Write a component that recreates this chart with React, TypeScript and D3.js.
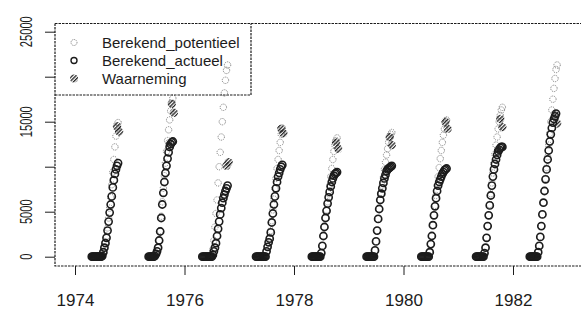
import React, { useEffect, useRef } from 'react';
import * as d3 from 'd3';

// groeiseizoenen en dagnummers van de berekening
const jaren = [1974, 1975, 1976, 1977, 1978, 1979, 1980, 1981, 1982];
const dagen = [98, 105, 112, 119, 126, 133, 140, 147, 154, 161, 168, 175, 182, 189, 196,
  203, 210, 217, 224, 231, 238, 245, 252, 259, 266, 273, 280, 287, 294];

const _ = null;

// Berekend_actueel, een rij per jaar
const berekendActueel = [
  [_, _, 0, 0, 0, 0, 0, 0, 0, 0, 0, 0, 100, 500, 1000, 1500, 2100, 2900, 3900, 4900, 5800, 6700, 7700, 8500, 9200, 9700, 10100, 10400, _],
  [_, _, _, _, 0, 0, 0, 0, 0, 0, 100, 300, 600, 1000, 1800, 2800, 4300, 5800, 7100, 8300, 9300, 10100, 10900, 11600, 12200, 12500, 12700, 12800, _],
  [_, _, _, 0, 0, 0, 0, 0, 0, 0, 0, 0, 0, 200, 600, 1000, 1500, 2300, 3100, 3900, 4700, 5400, 6000, 6500, 6900, 7300, 7600, 7900, _],
  [_, _, 0, 0, 0, 0, 0, 0, 0, 0, 0, 0, 600, 1100, 1600, 2000, 2700, 3800, 4800, 5800, 6700, 7600, 8300, 8900, 9300, 9700, 10000, 10200, _],
  [_, _, _, 0, 0, 0, 0, 0, 0, 0, 0, 0, 400, 1200, 2300, 3300, 4300, 5100, 5900, 6600, 7200, 7800, 8300, 8700, 9000, 9200, 9300, 9400, _],
  [_, _, _, 0, 0, 0, 0, 0, 0, 0, 0, 700, 1700, 2900, 4200, 5300, 6300, 7000, 7600, 8200, 8700, 9100, 9500, 9700, 9800, 9900, 10000, 10100, _],
  [_, _, _, 0, 0, 0, 0, 0, 0, 0, 0, 500, 1400, 2300, 3500, 4600, 5600, 6500, 7300, 7900, 8300, 8600, 8900, 9200, 9400, 9600, 9700, 9800, _],
  [_, _, _, 0, 0, 0, 0, 0, 0, 0, 0, 400, 1000, 2100, 3400, 4600, 5700, 6800, 7900, 8900, 9700, 10300, 10800, 11300, 11700, 11900, 12100, 12200, 12200],
  [_, _, 0, 0, 0, 0, 0, 0, 0, 0, 500, 1200, 2200, 3400, 4700, 6000, 7300, 8600, 9700, 10800, 11800, 12800, 13600, 14300, 14900, 15300, 15600, 15900, _],
];

// Berekend_potentieel
const berekendPotentieel = [
  [_, _, 0, 0, 0, 0, 0, 0, 0, 0, 0, 0, 100, 500, 1000, 1600, 2300, 3200, 4300, 5400, 6600, 8000, 9400, 10800, 12200, 13400, 14300, 14900, _],
  [_, _, _, _, 0, 0, 0, 0, 0, 0, 100, 300, 600, 1000, 1800, 2900, 4500, 6100, 7600, 9000, 10400, 11700, 12900, 14100, 15200, 16200, 17000, 17600, _],
  [_, _, _, 0, 0, 0, 0, 0, 0, 0, 0, 0, 0, 800, 1800, 3300, 4800, 6300, 8200, 10000, 11600, 13300, 15000, 16600, 18200, 19600, 20700, 21300, _],
  [_, _, 0, 0, 0, 0, 0, 0, 0, 0, 0, 0, 600, 1100, 1600, 2100, 2900, 4000, 5200, 6400, 7600, 8700, 9800, 10800, 11800, 12700, 13600, 14300, _],
  [_, _, _, 0, 0, 0, 0, 0, 0, 0, 0, 0, 400, 1200, 2300, 3300, 4300, 5200, 6100, 7000, 7900, 8900, 9800, 10800, 11700, 12400, 12900, 13200, _],
  [_, _, _, 0, 0, 0, 0, 0, 0, 0, 0, 700, 1700, 2900, 4200, 5300, 6300, 7100, 7900, 8800, 9700, 10500, 11300, 12000, 12700, 13200, 13600, 13800, _],
  [_, _, _, 0, 0, 0, 0, 0, 0, 0, 0, 500, 1400, 2300, 3500, 4600, 5700, 6800, 7900, 8900, 9900, 10900, 11800, 12700, 13500, 14200, 14800, 15200, _],
  [_, _, _, 0, 0, 0, 0, 0, 0, 0, 0, 400, 1000, 2100, 3400, 4600, 5800, 7000, 8200, 9300, 10400, 11400, 12400, 13300, 14200, 15000, 15700, 16300, 16600],
  [_, _, 0, 0, 0, 0, 0, 0, 0, 0, 500, 1200, 2200, 3400, 4700, 6000, 7300, 8700, 9900, 11100, 12400, 13700, 15000, 16300, 17500, 18700, 19800, 20800, 21300],
];

// Waarneming
const waarnemingJaar = [1974, 1974, 1975, 1975, 1975, 1976, 1976, 1977, 1977, 1978, 1978,
  1979, 1979, 1980, 1980, 1981, 1981, 1981, 1982, 1982];
const waarnemingDag = [280, 294, 266, 280, 294, 280, 294, 280, 294, 280, 294,
  273, 287, 280, 294, 266, 280, 294, 280, 294];
const waarnemingWaarde = [14500, 13900, 12600, 17000, 16000, 10100, 10500, 14200, 13700, 12700, 12000,
  13300, 12400, 15000, 14200, 11900, 15300, 14400, 15800, 14800];

const xTicks = [1974, 1976, 1978, 1980, 1982];
const yTicks = [0, 5000, 10000, 15000, 20000, 25000];
const yLabels = ['0', '5000', '', '15000', '', '25000'];
const legendLabels = ['Berekend_potentieel', 'Berekend_actueel', 'Waarneming'];

const ink = '#1c1c1c';
const font = '"Liberation Sans", Arial, Helvetica, sans-serif';

const App = () => {
  const svgRef = useRef<SVGSVGElement>(null);

  useEffect(() => {
    const svg = d3.select(svgRef.current);
    svg.selectAll('*').remove();

    const x = d3.scaleLinear().domain([1974, 1982]).range([75, 513]);
    const y = d3.scaleLinear().domain([0, 25000]).range([256.7, 31.7]);
    const left = 55, top = 23.5, bottom = 266;

    const defs = svg.append('defs');
    defs.append('pattern')
      .attr('id', 'hatch')
      .attr('patternUnits', 'userSpaceOnUse')
      .attr('width', 2.6)
      .attr('height', 2.6)
      .attr('patternTransform', 'rotate(45)')
      .append('rect')
      .attr('width', 1.3)
      .attr('height', 2.6)
      .attr('fill', '#222');

    const dashed = '2.5 1';

    // plot kader
    svg.append('path')
      .attr('d', `M${left},${top}H583M${left},${top}V${bottom}H583`)
      .attr('fill', 'none')
      .attr('stroke', ink)
      .attr('stroke-width', 1.2)
      .attr('stroke-dasharray', dashed);

    // x-as
    const xAxis = d3.axisBottom(x).tickValues(xTicks).tickSize(9).tickPadding(19)
      .tickFormat(d3.format('d'));
    const gx = svg.append('g').attr('transform', `translate(0,${bottom})`).call(xAxis);
    gx.select('.domain').remove();
    gx.selectAll('line').attr('stroke', ink).attr('stroke-width', 1);
    gx.selectAll('text')
      .attr('font-family', font)
      .attr('font-size', 17)
      .attr('fill', ink);

    // y-as
    const yAxis = d3.axisLeft(y).tickValues(yTicks).tickSize(10).tickFormat(() => '');
    const gy = svg.append('g').attr('transform', `translate(${left},0)`).call(yAxis);
    gy.select('.domain').remove();
    gy.selectAll('line').attr('stroke', ink).attr('stroke-width', 1);

    svg.append('g')
      .selectAll('text')
      .data(yTicks.map((v, i) => ({ v, label: yLabels[i] })).filter(d => d.label))
      .join('text')
      .attr('transform', d => `translate(32,${y(d.v)}) rotate(-90)`)
      .attr('text-anchor', 'middle')
      .attr('font-family', font)
      .attr('font-size', 16)
      .attr('textLength', d => d.label.length * 6.2)
      .attr('lengthAdjust', 'spacingAndGlyphs')
      .attr('fill', ink)
      .text(d => d.label);

    const punten = (reeks: (number | null)[][]) =>
      jaren.flatMap((jaar, i) =>
        dagen
          .map((dag, j) => ({ t: jaar + dag / 365, v: reeks[i][j] }))
          .filter(p => p.v !== null)
      );

    // Berekend_potentieel
    svg.append('g')
      .selectAll('circle')
      .data(punten(berekendPotentieel))
      .join('circle')
      .attr('cx', d => x(d.t))
      .attr('cy', d => y(d.v as number))
      .attr('r', 3.2)
      .attr('fill', 'none')
      .attr('stroke', '#777')
      .attr('stroke-width', 1)
      .attr('stroke-dasharray', '1 1');

    // Berekend_actueel
    svg.append('g')
      .selectAll('circle')
      .data(punten(berekendActueel))
      .join('circle')
      .attr('cx', d => x(d.t))
      .attr('cy', d => y(d.v as number))
      .attr('r', 3.6)
      .attr('fill', 'none')
      .attr('stroke', ink)
      .attr('stroke-width', 1.6);

    // Waarneming
    svg.append('g')
      .selectAll('circle')
      .data(waarnemingJaar.map((j, i) => ({ t: j + waarnemingDag[i] / 365, v: waarnemingWaarde[i] })))
      .join('circle')
      .attr('cx', d => x(d.t))
      .attr('cy', d => y(d.v))
      .attr('r', 4.2)
      .attr('fill', 'url(#hatch)');

    // legenda
    const lg = svg.append('g');
    lg.append('path')
      .attr('d', `M${left},95H251V${top}`)
      .attr('fill', 'none')
      .attr('stroke', ink)
      .attr('stroke-width', 1.2)
      .attr('stroke-dasharray', dashed);
    const rijY = [42.5, 60.5, 78.5];
    lg.selectAll('text')
      .data(legendLabels)
      .join('text')
      .attr('x', 102)
      .attr('y', (_d, i) => rijY[i] + 5.3)
      .attr('font-family', font)
      .attr('font-size', 15)
      .attr('fill', ink)
      .text(d => d);
    lg.append('circle').attr('cx', 74).attr('cy', rijY[0]).attr('r', 3)
      .attr('fill', 'none').attr('stroke', '#777').attr('stroke-width', 1).attr('stroke-dasharray', '1 1');
    lg.append('circle').attr('cx', 74).attr('cy', rijY[1]).attr('r', 3)
      .attr('fill', 'none').attr('stroke', ink).attr('stroke-width', 1.4);
    lg.append('circle').attr('cx', 74).attr('cy', rijY[2]).attr('r', 4)
      .attr('fill', 'url(#hatch)');
  }, []);

  return (
    <svg ref={svgRef} width={581} height={313}
      style={{ position: 'absolute', left: 0, top: 0, background: '#fff' }} />
  );
};

export default App;
